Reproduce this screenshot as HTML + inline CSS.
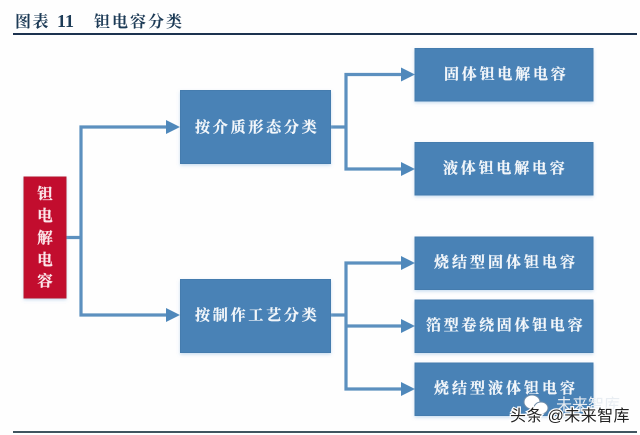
<!DOCTYPE html>
<html lang="zh"><head><meta charset="utf-8"><style>
html,body{margin:0;padding:0;background:#fff}
svg{display:block}
text{font-family:"Liberation Serif","Noto Serif CJK SC",serif;font-weight:700}
.w{fill:#f2f6fa;font-size:15px;letter-spacing:2.8px;stroke:#f2f6fa;stroke-width:.25}
.l{fill:none;stroke:#5b90bf;stroke-width:3.2}
.a{fill:#4f88bb}
.b{fill:#4a82b6;stroke:#447bae;stroke-width:1}
</style></head><body>
<svg width="640" height="435" viewBox="0 0 640 435" xmlns="http://www.w3.org/2000/svg">
<defs>
<filter id="s" x="-10%" y="-10%" width="120%" height="125%"><feDropShadow dx="0" dy="1.5" stdDeviation="1.5" flood-color="#9cc2e6" flood-opacity=".55"/></filter>
<filter id="bl"><feGaussianBlur stdDeviation="0.35"/></filter>
</defs>
<rect width="640" height="435" fill="#fefefe"/>
<g filter="url(#bl)">
<text x="15" y="27" font-size="16" fill="#1f3a56" style="letter-spacing:1.500px">图表</text>
<text x="57" y="27" font-size="18" fill="#1f3a56">11</text>
<text x="94" y="27" font-size="16" fill="#1f3a56" style="letter-spacing:2px">钽电容分类</text>
<rect x="13" y="33" width="624" height="2" fill="#1d3350"/>
<rect x="13" y="431" width="624" height="2" fill="#3f5560"/>
<path class="l" d="M66 237.5H81M81 127V315M79.4 127H168M79.4 315H168"/>
<path class="l" d="M331 127H346M346 74.500V169M344.400 74.500H403M344.400 169H403"/>
<path class="l" d="M331 315H346M346 263V389M344.400 263H403M344.400 326H403M344.400 389H403"/>
<path class="a" d="M166 120L180 127L166 134ZM166 308L180 315L166 322Z"/>
<path class="a" d="M401 67.500L415 74.500L401 81.500ZM401 162L415 169L401 176ZM401 256L415 263L401 270ZM401 319L415 326L401 333ZM401 382L415 389L401 396Z"/>
<rect x="24" y="177" width="42" height="121" fill="#c20a2e" stroke="#b5122f" filter="url(#s)"/>
<g filter="url(#s)">
<rect class="b" x="180.500" y="90.500" width="150" height="73"/>
<rect class="b" x="180.500" y="279.500" width="150" height="73"/>
<rect class="b" x="415" y="48.500" width="178" height="52.500"/>
<rect class="b" x="415" y="142.500" width="178" height="52.500"/>
<rect class="b" x="415" y="237" width="178" height="52.500"/>
<rect class="b" x="415" y="300" width="178" height="52.500"/>
<rect class="b" x="415" y="363" width="178" height="52.500"/>
</g>
<g font-size="15.500" fill="#fbe6ea" text-anchor="middle" stroke="#fbe6ea" stroke-width=".25">
<text x="45" y="199">钽</text><text x="45" y="221">电</text><text x="45" y="243">解</text><text x="45" y="265">电</text><text x="45" y="286">容</text>
</g>
<text class="w" x="195" y="132">按介质形态分类</text>
<text class="w" x="195" y="320">按制作工艺分类</text>
<text class="w" x="444" y="79">固体钽电解电容</text>
<text class="w" x="443" y="173">液体钽电解电容</text>
<text class="w" x="434" y="267" style="letter-spacing:3px">烧结型固体钽电容</text>
<text class="w" x="426" y="330" style="letter-spacing:2.700px">箔型卷绕固体钽电容</text>
<text class="w" x="434" y="393" style="letter-spacing:3px">烧结型液体钽电容</text>
</g>
<g>
<ellipse cx="532" cy="402" rx="8" ry="7" fill="#fff" stroke="#6f8ca8" stroke-width="1"/>
<ellipse cx="541" cy="408" rx="7" ry="6" fill="#fff" stroke="#6f8ca8" stroke-width="1"/>
<text x="556" y="410" font-size="16" fill="#e8edf2" style="font-family:'Liberation Sans','Noto Sans CJK SC',sans-serif;font-weight:400">未来智库</text>
<text x="510" y="421" font-size="16" fill="#222" stroke="#fff" stroke-width="2.500" paint-order="stroke" style="font-family:'Liberation Sans','Noto Sans CJK SC',sans-serif;font-weight:400;letter-spacing:.4px">头条 @未来智库</text>
</g>
</svg>
</body></html>
